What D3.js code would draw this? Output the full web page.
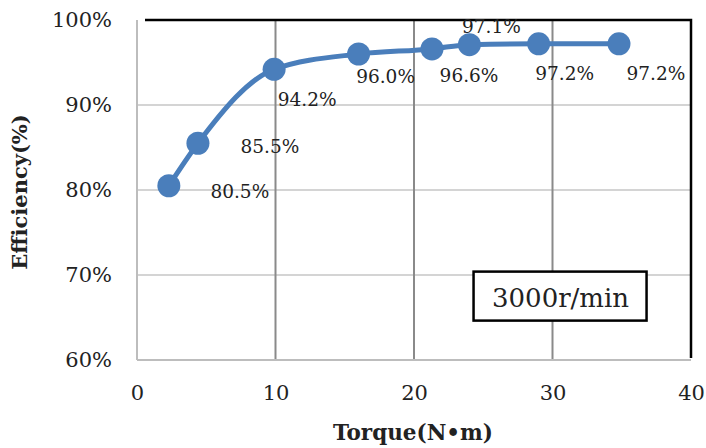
<!DOCTYPE html>
<html>
<head>
<meta charset="utf-8">
<script src="https://d3js.org/d3.v7.min.js"></script>
<style>
  body { margin: 0; background: #fff; }
  svg text { font-family: "DejaVu Serif", "Liberation Serif", serif; fill: #222; }
</style>
</head>
<body>
<div id="chart"></div>
<script>
// data
var torque = [2.3, 4.4, 9.9, 16.0, 21.3, 24.0, 29.0, 34.8];
var efficiency = [80.5, 85.5, 94.2, 96.0, 96.6, 97.1, 97.2, 97.2];
var xTicks = [0, 10, 20, 30, 40];
var yTicks = [60, 70, 80, 90, 100];
var speedLabel = "3000r/min";

var width = 706, height = 448;
var margin = {top: 20, right: 15, bottom: 88, left: 137};

var svg = d3.select("#chart").append("svg")
    .attr("width", width)
    .attr("height", height);

var x = d3.scaleLinear().domain([0, 40]).range([margin.left, width - margin.right]);
var y = d3.scaleLinear().domain([60, 100]).range([height - margin.bottom, margin.top]);

// horizontal grid
svg.append("g").selectAll("line")
    .data(yTicks.filter(function(d) { return d > 60 && d < 100; }))
  .enter().append("line")
    .attr("x1", x(0)).attr("x2", x(40))
    .attr("y1", function(d) { return y(d); })
    .attr("y2", function(d) { return y(d); })
    .attr("stroke", "#d4d4d4").attr("stroke-width", 2);

// vertical grid
svg.append("g").selectAll("line")
    .data(xTicks.filter(function(d) { return d > 0 && d < 40; }))
  .enter().append("line")
    .attr("x1", function(d) { return x(d); })
    .attr("x2", function(d) { return x(d); })
    .attr("y1", y(100)).attr("y2", y(60))
    .attr("stroke", "#8a8a8a").attr("stroke-width", 2);

// left + bottom axis lines (gray)
svg.append("line").attr("x1", x(0)).attr("x2", x(0)).attr("y1", y(100)).attr("y2", y(60))
    .attr("stroke", "#bdbdbd").attr("stroke-width", 2);
svg.append("line").attr("x1", x(0)).attr("x2", x(40)).attr("y1", y(60)).attr("y2", y(60))
    .attr("stroke", "#bdbdbd").attr("stroke-width", 2);

// black frame top + right
svg.append("path")
    .attr("d", "M" + (x(0) + 8) + "," + y(100) + "H" + x(40) + "V" + (y(60) - 2))
    .attr("fill", "none").attr("stroke", "#000").attr("stroke-width", 2.5);

// tick labels
var xAxis = d3.axisBottom(x).tickValues(xTicks).tickSize(0).tickPadding(25);
var gx = svg.append("g").attr("transform", "translate(0," + y(60) + ")").call(xAxis);
gx.select(".domain").remove();
gx.selectAll("text").style("font-size", "21px").attr("fill", "#222");

var yAxis = d3.axisLeft(y).tickValues(yTicks).tickSize(0).tickPadding(25)
    .tickFormat(function(d) { return d + "%"; });
var gy = svg.append("g").attr("transform", "translate(" + x(0) + ",0)").call(yAxis);
gy.select(".domain").remove();
gy.selectAll("text").style("font-size", "21px").attr("fill", "#222");

// axis titles
svg.append("text")
    .attr("x", 413).attr("y", 440)
    .attr("text-anchor", "middle")
    .style("font-size", "21.5px").style("font-weight", "bold")
    .text("Torque(N•m)");

svg.append("text")
    .attr("transform", "translate(27,192) rotate(-90)")
    .attr("text-anchor", "middle")
    .style("font-size", "21px").style("font-weight", "bold")
    .text("Efficiency(%)");

// line + markers
var pts = torque.map(function(t, i) { return [t, efficiency[i]]; });
var line = d3.line()
    .x(function(d) { return x(d[0]); })
    .y(function(d) { return y(d[1]); })
    .curve(d3.curveMonotoneX);

svg.append("path").datum(pts)
    .attr("d", line)
    .attr("fill", "none")
    .attr("stroke", "#4a7ebb")
    .attr("stroke-width", 5);

svg.append("g").selectAll("circle")
    .data(pts)
  .enter().append("circle")
    .attr("cx", function(d) { return x(d[0]); })
    .attr("cy", function(d) { return y(d[1]); })
    .attr("r", 11.5)
    .attr("fill", "#4a7ebb");

// data labels, placed like the excel chart
var place = [[71, 12], [72, 10], [33, 37], [27, 29], [37, 33], [22, -12], [26, 36], [37, 36]];
svg.append("g").selectAll("text")
    .data(pts)
  .enter().append("text")
    .attr("x", function(d, i) { return x(d[0]) + place[i][0]; })
    .attr("y", function(d, i) { return y(d[1]) + place[i][1]; })
    .attr("text-anchor", "middle")
    .style("font-size", "18.5px")
    .text(function(d) { return d[1].toFixed(1) + "%"; });

// speed box
var bx = x(24.3), by = y(70.4);
svg.append("rect")
    .attr("x", bx).attr("y", by)
    .attr("width", 173).attr("height", 49)
    .attr("fill", "#fff").attr("stroke", "#000").attr("stroke-width", 2.5);
svg.append("text")
    .attr("x", bx + 87).attr("y", by + 35)
    .attr("text-anchor", "middle")
    .style("font-size", "26px")
    .text(speedLabel);
</script>
</body>
</html>
